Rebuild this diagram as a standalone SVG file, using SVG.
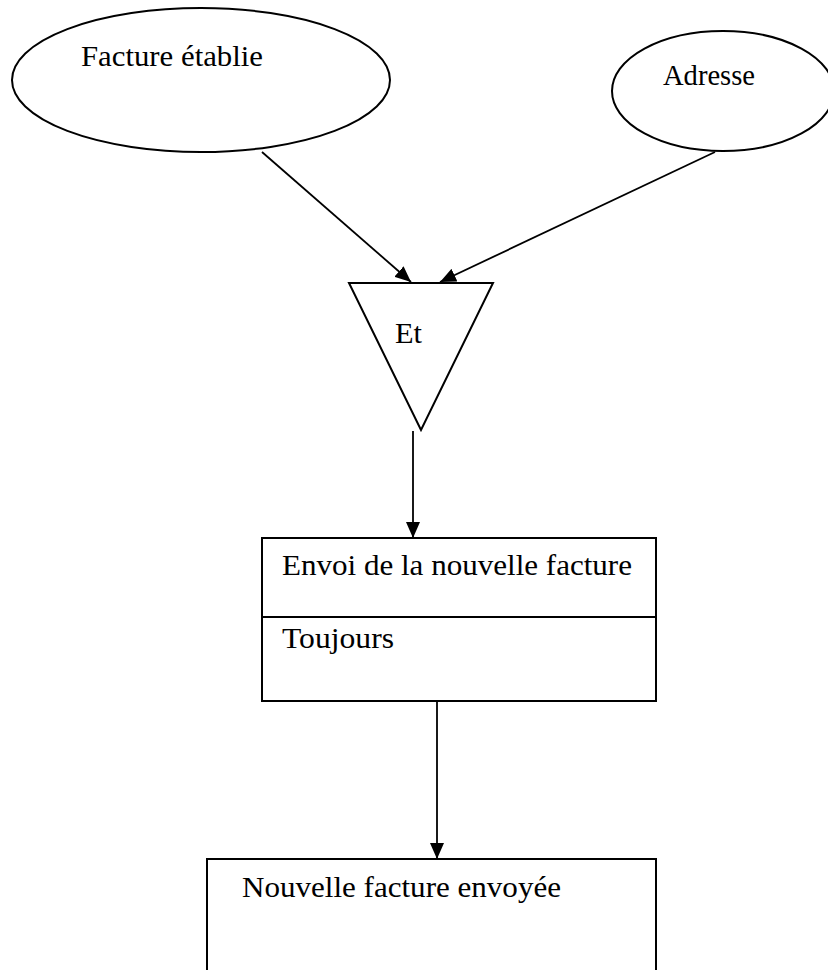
<svg xmlns="http://www.w3.org/2000/svg" width="828" height="970" viewBox="0 0 828 970">
  <style>
    .shape { fill: #ffffff; stroke: #000000; stroke-width: 2; }
    .edge { fill: none; stroke: #000000; stroke-width: 1.8; }
    .label { font-family: "Liberation Serif", "Times New Roman", serif; font-size: 30px; fill: #000000; }
  </style>
  <defs>
    <marker id="arrowBig" viewBox="0 0 16 14" refX="16" refY="7" markerWidth="16" markerHeight="14" markerUnits="userSpaceOnUse" orient="auto">
      <path d="M0,0 L16,7 L0,14 Z" fill="#000000"/>
    </marker>
  </defs>
  <rect width="828" height="970" fill="#ffffff"/>

  <g id="edges">
    <line class="edge" x1="262" y1="152" x2="411" y2="282" marker-end="url(#arrowBig)"/>
    <line class="edge" x1="715" y1="152" x2="440" y2="282" marker-end="url(#arrowBig)"/>
    <line class="edge" x1="413" y1="431" x2="413" y2="538" marker-end="url(#arrowBig)"/>
    <line class="edge" x1="437" y1="701" x2="437" y2="859" marker-end="url(#arrowBig)"/>
  </g>

  <g id="facture-etablie">
    <ellipse class="shape" cx="201" cy="80" rx="189" ry="72"/>
    <text class="label" x="81" y="66" textLength="182" lengthAdjust="spacingAndGlyphs">Facture établie</text>
  </g>

  <g id="adresse">
    <ellipse class="shape" cx="723" cy="91" rx="111" ry="60"/>
    <text class="label" x="663" y="85" textLength="92" lengthAdjust="spacingAndGlyphs">Adresse</text>
  </g>

  <g id="et">
    <polygon class="shape" points="349,283 493,283 421,430"/>
    <text class="label" x="395" y="343" textLength="27" lengthAdjust="spacingAndGlyphs">Et</text>
  </g>

  <g id="envoi">
    <rect class="shape" x="262" y="538" width="394" height="163"/>
    <line class="edge" x1="262" y1="617" x2="656" y2="617"/>
    <text class="label" x="282" y="575" textLength="350" lengthAdjust="spacingAndGlyphs">Envoi de la nouvelle facture</text>
    <text class="label" x="282" y="648" textLength="112" lengthAdjust="spacingAndGlyphs">Toujours</text>
  </g>

  <g id="nouvelle-facture-envoyee">
    <rect class="shape" x="207" y="859" width="449" height="140"/>
    <text class="label" x="242" y="897" textLength="319" lengthAdjust="spacingAndGlyphs">Nouvelle facture envoyée</text>
  </g>
</svg>
